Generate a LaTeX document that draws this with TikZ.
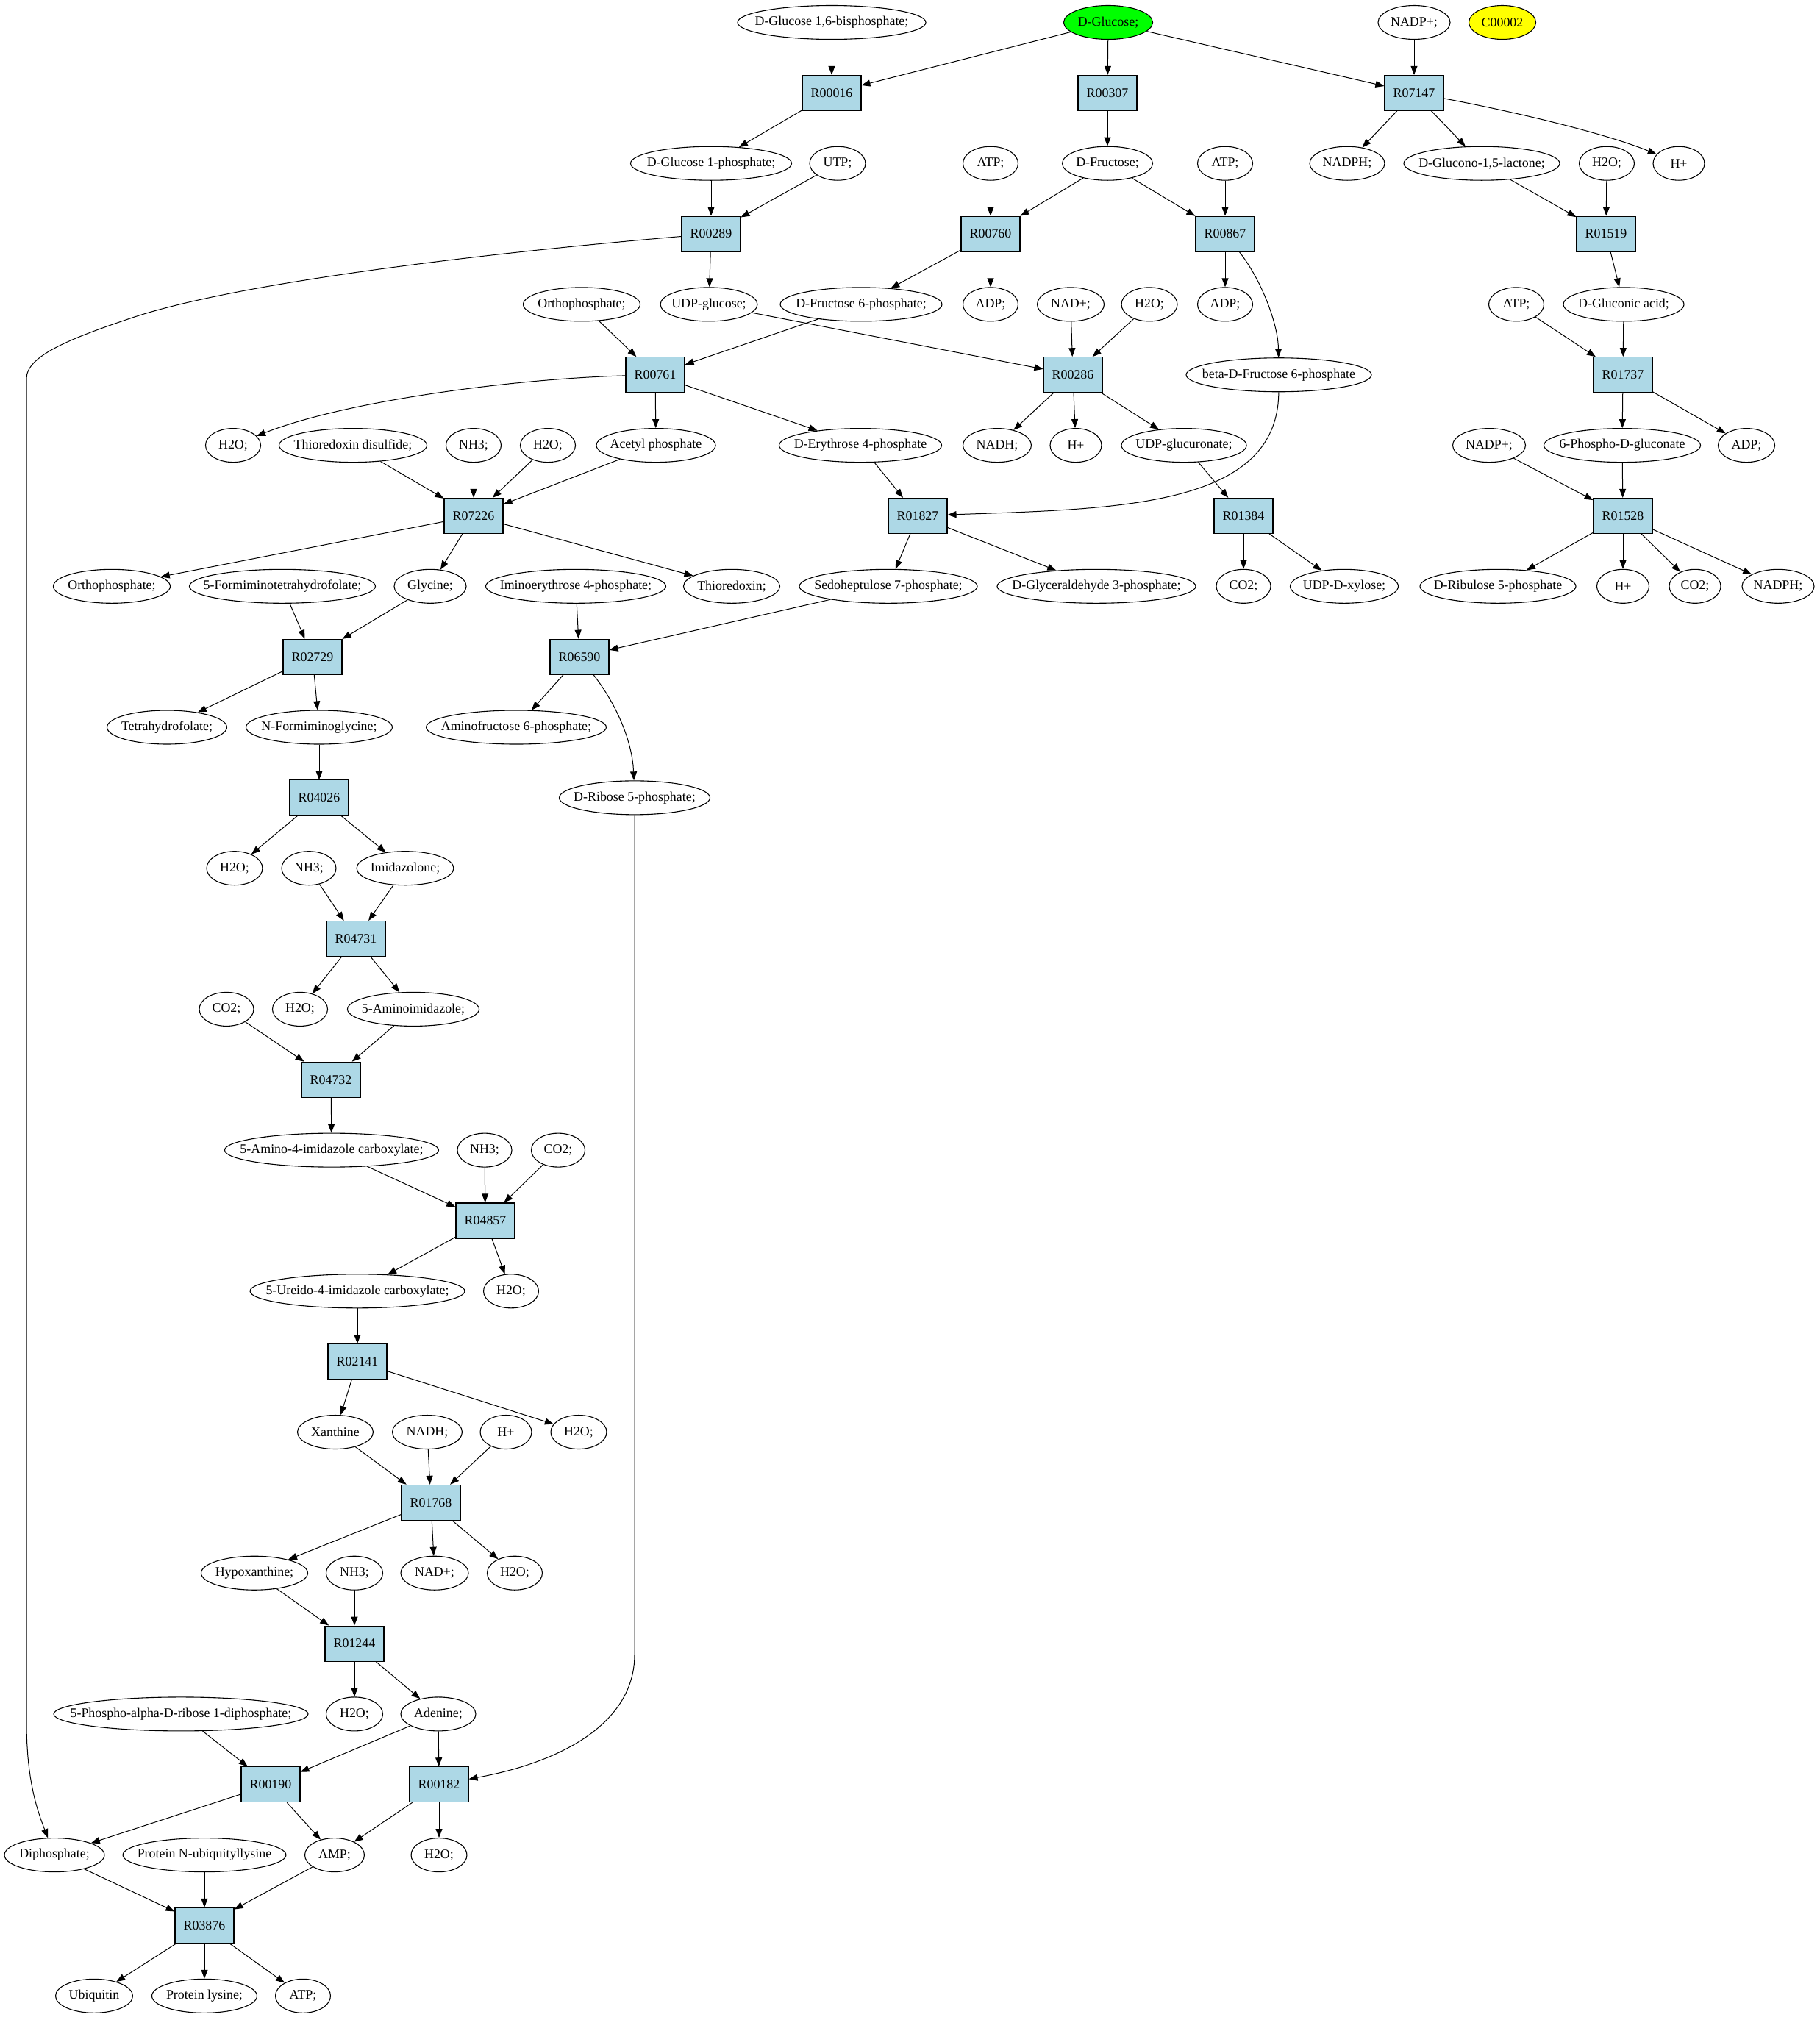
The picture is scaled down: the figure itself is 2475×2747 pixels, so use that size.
\documentclass[tikz,border=0pt]{standalone}
\usepackage{fontspec}
\setmainfont{Liberation Serif}
\usetikzlibrary{arrows.meta,shapes.geometric}
\definecolor{rxblue}{HTML}{ADD8E6}
\definecolor{glcgreen}{HTML}{00FF00}
\definecolor{cpdyellow}{HTML}{FFFF00}
\tikzset{
  met/.style={ellipse, draw, line width=1.1pt, inner sep=0pt, minimum height=46pt,
    font=\fontsize{17.9}{21}\selectfont},
  rxn/.style={rectangle, draw, fill=rxblue, line width=1.1pt, inner sep=0pt,
    minimum width=80pt, minimum height=48pt, font=\fontsize{17.9}{21}\selectfont},
  arr/.style={line width=1pt, -{Triangle[length=12pt,width=9pt]}},
}
\newcommand\met[6][]{\node[met,minimum width=#3pt,#1] (#2) at ({#4},{30.5+95.85*#5}) {\makebox[0pt]{#6}};}
\newcommand\rx[3]{\node[rxn] (#1) at ({#2},{30.5+95.85*#3}) {#1};}
\begin{document}
\begin{tikzpicture}[x=1pt,y=-1pt]
\fill[white] (0,0) rectangle (2475,2747);
\useasboundingbox (0,0) rectangle (2475,2747);
% row 0
\met{g16bp}{256}{1131}{0}{D-Glucose 1,6-bisphosphate;}
\met[fill=glcgreen]{glc}{121}{1507}{0}{D-Glucose;}
\met{nadpA}{98}{1923}{0}{NADP+;}
\met[fill=cpdyellow]{cpd}{91}{2043}{0}{C00002}
% row 1
\rx{R00016}{1131}{1}
\rx{R00307}{1506}{1}
\rx{R07147}{1923}{1}
% row 2
\met{g1p}{219}{967}{2}{D-Glucose 1-phosphate;}
\met{utp}{76}{1139}{2}{UTP;}
\met{atpA}{75}{1347}{2}{ATP;}
\met{fru}{123}{1506}{2}{D-Fructose;}
\met{atpB}{75}{1666}{2}{ATP;}
\met{nadphA}{102}{1832}{2}{NADPH;}
\met{gdl}{212}{2015}{2}{D-Glucono-1,5-lactone;}
\met{wA}{75}{2185}{2}{H2O;}
\met{hA}{70}{2283}{2}{H+}
% row 3
\rx{R00289}{967}{3}
\rx{R00760}{1347}{3}
\rx{R00867}{1666}{3}
\rx{R01519}{2184}{3}
% row 4
\met{piA}{159}{791}{4}{Orthophosphate;}
\met{udpg}{132}{964}{4}{UDP-glucose;}
\met{f6p}{220}{1171}{4}{D-Fructose 6-phosphate;}
\met{adpA}{75}{1347}{4}{ADP;}
\met{nadA}{91}{1456}{4}{NAD+;}
\met{wB}{76}{1563}{4}{H2O;}
\met{adpB}{75}{1666}{4}{ADP;}
\met{atpC}{75}{2062}{4}{ATP;}
\met{glcn}{164}{2208}{4}{D-Gluconic acid;}
% row 5
\rx{R00761}{891}{5}
\rx{R00286}{1459}{5}
\met{bf6p}{252}{1739}{5}{beta-D-Fructose 6-phosphate}
\rx{R01737}{2207}{5}
% row 6
\met{wC}{75}{317}{6}{H2O;}
\met{trxss}{201}{480}{6}{Thioredoxin disulfide;}
\met{nhA}{75}{644}{6}{NH3;}
\met{wD}{75}{745}{6}{H2O;}
\met{acp}{162}{892}{6}{Acetyl phosphate}
\met{e4p}{221}{1170}{6}{D-Erythrose 4-phosphate}
\met{nadhA}{93}{1356}{6}{NADH;}
\met{hB}{70}{1463}{6}{H+}
\met{udpgla}{170}{1610}{6}{UDP-glucuronate;}
\met{nadpB}{99}{2025}{6}{NADP+;}
\met{pg6}{213}{2206}{6}{6-Phospho-D-gluconate}
\met{adpC}{77}{2375}{6}{ADP;}
% row 7
\rx{R07226}{644}{7}
\rx{R01827}{1248}{7}
\rx{R01384}{1691}{7}
\rx{R01528}{2207}{7}
% row 8
\met{piB}{159}{152}{8}{Orthophosphate;}
\met{fthf}{253}{384}{8}{5-Formiminotetrahydrofolate;}
\met{gly}{98}{585}{8}{Glycine;}
\met{ie4p}{245}{783}{8}{Iminoerythrose 4-phosphate;}
\met{trx}{131}{995}{8}{Thioredoxin;}
\met{s7p}{242}{1208}{8}{Sedoheptulose 7-phosphate;}
\met{gap}{270}{1491}{8}{D-Glyceraldehyde 3-phosphate;}
\met{coA}{74}{1691}{8}{CO2;}
\met{udpx}{147}{1828}{8}{UDP-D-xylose;}
\met{ru5p}{212}{2037}{8}{D-Ribulose 5-phosphate}
\met{hC}{71}{2207}{8}{H+}
\met{coB}{70}{2305}{8}{CO2;}
\met{nadphB}{98}{2418}{8}{NADPH;}
% row 9
\rx{R02729}{425}{9}
\rx{R06590}{788}{9}
% row 10
\met{thf}{163}{227}{10}{Tetrahydrofolate;}
\met{nfg}{199}{434}{10}{N-Formiminoglycine;}
\met{af6p}{245}{702}{10}{Aminofructose 6-phosphate;}
% row 11
\rx{R04026}{434}{11}
\met{r5p}{205}{863}{11}{D-Ribose 5-phosphate;}
% row 12
\met{wE}{76}{319}{12}{H2O;}
\met{nhB}{74}{420}{12}{NH3;}
\met{imz}{132}{551}{12}{Imidazolone;}
% row 13
\rx{R04731}{484}{13}
% row 14
\met{coC}{74}{308}{14}{CO2;}
\met{wF}{75}{408}{14}{H2O;}
\met{aimz}{179}{562}{14}{5-Aminoimidazole;}
% row 15
\rx{R04732}{450}{15}
% row 16
\met{aica}{291}{451}{16}{5-Amino-4-imidazole carboxylate;}
\met{nhC}{74}{659}{16}{NH3;}
\met{coD}{73}{759}{16}{CO2;}
% row 17
\rx{R04857}{660}{17}
% row 18
\met{uica}{292}{486}{18}{5-Ureido-4-imidazole carboxylate;}
\met{wG}{75}{695}{18}{H2O;}
% row 19
\rx{R02141}{486}{19}
% row 20
\met{xan}{103}{456}{20}{Xanthine}
\met{nadhB}{95}{581}{20}{NADH;}
\met{hD}{70}{688}{20}{H+}
\met{wH}{76}{787}{20}{H2O;}
% row 21
\rx{R01768}{586}{21}
% row 22
\met{hyp}{145}{346}{22}{Hypoxanthine;}
\met{nhD}{77}{482}{22}{NH3;}
\met{nadB}{92}{591}{22}{NAD+;}
\met{wI}{75}{700}{22}{H2O;}
% row 23
\rx{R01244}{482}{23}
% row 24
\met{prpp}{346}{246}{24}{5-Phospho-alpha-D-ribose 1-diphosphate;}
\met{wJ}{77}{482}{24}{H2O;}
\met{ade}{102}{596}{24}{Adenine;}
% row 25
\rx{R00190}{368}{25}
\rx{R00182}{597}{25}
% row 26
\met{ppi}{136}{74}{26}{Diphosphate;}
\met{pnu}{222}{278}{26}{Protein N-ubiquityllysine}
\met{amp}{81}{455}{26}{AMP;}
\met{wK}{76}{597}{26}{H2O;}
% row 27
\rx{R03876}{278}{27}
% row 28
\met{ubi}{105}{128}{28}{Ubiquitin}
\met{plys}{143}{278}{28}{Protein lysine;}
\met{atpD}{75}{412}{28}{ATP;}

% edges
\draw[arr] (g16bp) -- (R00016);
\draw[arr] (glc) -- (R00016);
\draw[arr] (glc) -- (R00307);
\draw[arr] (glc) -- (R07147);
\draw[arr] (nadpA) -- (R07147);
\draw[arr] (R00016) -- (g1p);
\draw[arr] (R00307) -- (fru);
\draw[arr] (R07147) -- (nadphA);
\draw[arr] (R07147) -- (gdl);
\draw[arr] (R07147) .. controls (2050,150) and (2180,180) .. (hA);
\draw[arr] (g1p) -- (R00289);
\draw[arr] (utp) -- (R00289);
\draw[arr] (atpA) -- (R00760);
\draw[arr] (fru) -- (R00760);
\draw[arr] (fru) -- (R00867);
\draw[arr] (atpB) -- (R00867);
\draw[arr] (gdl) -- (R01519);
\draw[arr] (wA) -- (R01519);
\draw[arr] (R00289) .. controls (650,345) and (320,385) .. (180,432)
   .. controls (90,462) and (36,485) .. (36,515) -- (36,2340)
   .. controls (36,2420) and (50,2460) .. (ppi);
\draw[arr] (R00289) -- (udpg);
\draw[arr] (R00760) -- (f6p);
\draw[arr] (R00760) -- (adpA);
\draw[arr] (R00867) -- (adpB);
\draw[arr] (R00867) .. controls (1715,380) and (1738,440) .. (bf6p);
\draw[arr] (R01519) -- (glcn);
\draw[arr] (piA) -- (R00761);
\draw[arr] (f6p) -- (R00761);
\draw[arr] (udpg) -- (R00286);
\draw[arr] (nadA) -- (R00286);
\draw[arr] (wB) -- (R00286);
\draw[arr] (atpC) -- (R01737);
\draw[arr] (glcn) -- (R01737);
\draw[arr] (R00761) .. controls (700,515) and (470,545) .. (wC);
\draw[arr] (R00761) -- (acp);
\draw[arr] (R00761) -- (e4p);
\draw[arr] (R00286) -- (nadhA);
\draw[arr] (R00286) -- (hB);
\draw[arr] (R00286) -- (udpgla);
\draw[arr] (R01737) -- (pg6);
\draw[arr] (R01737) -- (adpC);
\draw[arr] (trxss) -- (R07226);
\draw[arr] (nhA) -- (R07226);
\draw[arr] (wD) -- (R07226);
\draw[arr] (acp) -- (R07226);
\draw[arr] (e4p) -- (R01827);
\draw[arr] (bf6p) .. controls (1738,690) and (1520,692) .. (R01827);
\draw[arr] (udpgla) -- (R01384);
\draw[arr] (nadpB) -- (R01528);
\draw[arr] (pg6) -- (R01528);
\draw[arr] (R07226) -- (piB);
\draw[arr] (R07226) -- (gly);
\draw[arr] (R07226) -- (trx);
\draw[arr] (R01827) -- (s7p);
\draw[arr] (R01827) -- (gap);
\draw[arr] (R01384) -- (coA);
\draw[arr] (R01384) -- (udpx);
\draw[arr] (R01528) -- (ru5p);
\draw[arr] (R01528) -- (hC);
\draw[arr] (R01528) -- (coB);
\draw[arr] (R01528) -- (nadphB);
\draw[arr] (fthf) -- (R02729);
\draw[arr] (gly) -- (R02729);
\draw[arr] (ie4p) -- (R06590);
\draw[arr] (s7p) -- (R06590);
\draw[arr] (R02729) -- (thf);
\draw[arr] (R02729) -- (nfg);
\draw[arr] (R06590) -- (af6p);
\draw[arr] (R06590) .. controls (840,960) and (860,1010) .. (r5p);
\draw[arr] (nfg) -- (R04026);
\draw[arr] (R04026) -- (wE);
\draw[arr] (R04026) -- (imz);
\draw[arr] (nhB) -- (R04731);
\draw[arr] (imz) -- (R04731);
\draw[arr] (R04731) -- (wF);
\draw[arr] (R04731) -- (aimz);
\draw[arr] (coC) -- (R04732);
\draw[arr] (aimz) -- (R04732);
\draw[arr] (R04732) -- (aica);
\draw[arr] (aica) -- (R04857);
\draw[arr] (nhC) -- (R04857);
\draw[arr] (coD) -- (R04857);
\draw[arr] (R04857) -- (uica);
\draw[arr] (R04857) -- (wG);
\draw[arr] (uica) -- (R02141);
\draw[arr] (R02141) -- (xan);
\draw[arr] (R02141) -- (wH);
\draw[arr] (xan) -- (R01768);
\draw[arr] (nadhB) -- (R01768);
\draw[arr] (hD) -- (R01768);
\draw[arr] (R01768) -- (hyp);
\draw[arr] (R01768) -- (nadB);
\draw[arr] (R01768) -- (wI);
\draw[arr] (hyp) -- (R01244);
\draw[arr] (nhD) -- (R01244);
\draw[arr] (R01244) -- (wJ);
\draw[arr] (R01244) -- (ade);
\draw[arr] (prpp) -- (R00190);
\draw[arr] (ade) -- (R00190);
\draw[arr] (ade) -- (R00182);
\draw[arr] (r5p) -- (863,2250) .. controls (863,2340) and (770,2395) .. (R00182);
\draw[arr] (R00190) -- (ppi);
\draw[arr] (R00190) -- (amp);
\draw[arr] (R00182) -- (amp);
\draw[arr] (R00182) -- (wK);
\draw[arr] (ppi) -- (R03876);
\draw[arr] (pnu) -- (R03876);
\draw[arr] (amp) -- (R03876);
\draw[arr] (R03876) -- (ubi);
\draw[arr] (R03876) -- (plys);
\draw[arr] (R03876) -- (atpD);
\end{tikzpicture}
\end{document}
